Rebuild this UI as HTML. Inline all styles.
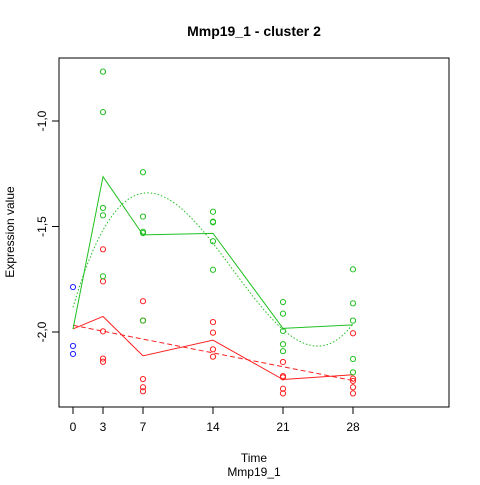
<!DOCTYPE html>
<html><head><meta charset="utf-8"><style>
body{margin:0;background:#fff}
svg text{font-family:"Liberation Sans",sans-serif;fill:#000}
</style></head><body>
<svg id="c" width="480" height="480" xmlns="http://www.w3.org/2000/svg">
<text x="254" y="36" font-size="14" font-weight="bold" text-anchor="middle">Mmp19_1 - cluster 2</text>
<rect x="59" y="58" width="390" height="349" fill="none" stroke="#000"/>
<text x="254" y="462" font-size="12" text-anchor="middle">Time</text>
<text x="254" y="476" font-size="12" text-anchor="middle">Mmp19_1</text>
<text transform="translate(14,232) rotate(-90)" font-size="12" text-anchor="middle">Expression value</text>
<g id="ax"></g><g id="marks"></g>
</svg>
<script>
const times=[0,3,7,14,21,28];
const yTicks=[-1.0,-1.5,-2.0];
const yTickLabels=["-1,0","-1,5","-2,0"];
const blueVals=[-1.787,-2.066,-2.104];
const greenVals=[[],[-0.766,-0.958,-1.412,-1.447,-1.736],[-1.243,-1.453,-1.525,-1.531,-1.946],[-1.430,-1.477,-1.480,-1.570,-1.705],[-1.858,-1.913,-1.995,-2.058,-2.091],[-1.703,-1.864,-1.946,-2.128,-2.191]];
const redVals=[[],[-1.608,-1.760,-1.997,-2.126,-2.141],[-1.854,-1.946,-2.223,-2.262,-2.281],[-1.953,-2.003,-2.082,-2.117],[-2.142,-2.209,-2.215,-2.269,-2.291],[-2.006,-2.221,-2.232,-2.262,-2.291]];
const X=t=>73+10*t, Y=v=>121-(v+1)*211;
const NS="http://www.w3.org/2000/svg";
const ax=document.getElementById('ax'), mk=document.getElementById('marks');
function el(p,tag,a){const e=document.createElementNS(NS,tag);for(const k in a)e.setAttribute(k,a[k]);p.appendChild(e);return e;}
times.forEach(t=>{
 const l=el(ax,'line',{x1:X(t),x2:X(t),y1:407,y2:414,stroke:'#000'});
 
 
 const tx=el(ax,'text',{x:X(t),y:431,'font-size':12,'text-anchor':'middle'});tx.textContent=t;
 
 
});
el(ax,'line',{x1:X(0),x2:X(28),y1:407,y2:407,stroke:'#000'});
yTicks.forEach((v,i)=>{
 const l=el(ax,'line',{x1:52,x2:59,y1:Y(v),y2:Y(v),stroke:'#000'});
 
 
 const tx=el(ax,'text',{transform:`translate(46,${Y(v)}) rotate(-90)`,'font-size':12,'text-anchor':'middle'});tx.textContent=yTickLabels[i];
 
 
});
el(ax,'line',{x1:59,x2:59,y1:Y(-1),y2:Y(-2),stroke:'#000'});
const mean=a=>a.reduce((s,v)=>s+v,0)/a.length;
const m0=mean(blueVals);
function fit(pts,deg){
 const n=deg+1,A=[...Array(n)].map(()=>Array(n+1).fill(0));
 pts.forEach(([t,v])=>{const s=t/28;for(let r=0;r<n;r++){for(let c=0;c<n;c++)A[r][c]+=Math.pow(s,r+c);A[r][n]+=v*Math.pow(s,r);}});
 for(let i=0;i<n;i++){let p=i;for(let r=i+1;r<n;r++)if(Math.abs(A[r][i])>Math.abs(A[p][i]))p=r;[A[i],A[p]]=[A[p],A[i]];
  for(let r=0;r<n;r++)if(r!==i){const f=A[r][i]/A[i][i];for(let c=i;c<=n;c++)A[r][c]-=f*A[i][c];}}
 const co=A.map((r,i)=>r[n]/r[i]);
 return t=>co.reduce((s,c,i)=>s+c*Math.pow(t/28,i),0);
}
function series(vals,col,deg,dash,nm){
 const ms=vals.map((a,i)=>i===0?m0:mean(a));
 const p=el(mk,'polyline',{points:ms.map((m,i)=>X(times[i])+','+Y(m)).join(' '),fill:'none',stroke:col});
 
 
 const f=fit(ms.map((m,i)=>[times[i],m]),deg);const q=[];for(let t=0;t<=28;t+=0.5)q.push(X(t)+','+Y(f(t)));
 const d=el(mk,'polyline',{points:q.join(' '),fill:'none',stroke:col,'stroke-dasharray':dash});
 
 
 vals.forEach((a,i)=>a.forEach(v=>{
  const c=el(mk,'circle',{cx:X(times[i]),cy:Y(v),r:2.6,fill:'none',stroke:col});
  
  
 }));
}
series(redVals,'#ff2020',1,'5,3','red');
series(greenVals,'#20c020',3,'1.5,2','green');
blueVals.forEach(v=>{
 const c=el(mk,'circle',{cx:X(0),cy:Y(v),r:2.6,fill:'none',stroke:'#2020ff'});
 
 
});
</script>
</body></html>
